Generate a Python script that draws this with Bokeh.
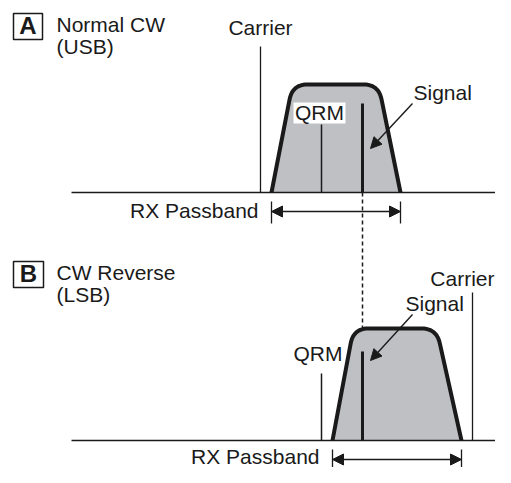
import numpy as np
from bokeh.plotting import figure
from bokeh.models import Range1d, Arrow, NormalHead, ColumnDataSource
from bokeh.core.properties import value
from bokeh.embed import file_html
from bokeh.resources import INLINE

# ---------------- data (diagram frequency / amplitude units) ----------------
panel_letters = ["A", "B"]
panel_titles = ["Normal CW", "CW Reverse"]
panel_modes = ["(USB)", "(LSB)"]
carrier_x = [260, 472]
carrier_height = [146, 148]
passband_lo = [271, 332]
passband_hi = [400, 461]
filter_top_lo = [292, 353]
filter_top_hi = [378, 436]
filter_height = [108, 112]
qrm_x = [321, 321]
qrm_height = [68, 67]
signal_x = [362, 362]
signal_height = [89, 89]

# ---------------- layout ----------------
dyB = -16                       # panel B vertical placement offset
baseline_y = [192, 456 + dyB]
axis_x0, axis_x1 = 71, 511
FONT = value("Liberation Sans")
INK = "#1a1a1a"
FILL = "#bfc0c4"
FS = "21px"
T = 8       # baseline correction for 21px text
TB = 10     # baseline correction for 24px bold text

p = figure(width=495, height=467, x_range=Range1d(0, 495), y_range=Range1d(467, 0),
           output_backend="svg", toolbar_location=None,
           x_axis_location=None, y_axis_location=None, min_border=0,
           outline_line_color=None, background_fill_color="white")
p.xgrid.visible = False
p.ygrid.visible = False


def filter_outline(lo, hi, tlo, thi, base, h, r=15, n=14):
    top = base - h
    P0 = np.array([lo, base], float)
    C1 = np.array([tlo, top], float)
    C2 = np.array([thi, top], float)
    P3 = np.array([hi, base], float)

    def towards(a, b, d):
        v = b - a
        return a + v / np.linalg.norm(v) * d

    t = np.linspace(0, 1, n)[:, None]

    def bez(a, c, b):
        return (1 - t) ** 2 * a + 2 * (1 - t) * t * c + t ** 2 * b

    a1, b1 = towards(C1, P0, r), towards(C1, C2, r)
    a2, b2 = towards(C2, C1, r), towards(C2, P3, r)
    pts = np.vstack([P0, bez(a1, C1, b1), bez(a2, C2, b2), P3])
    return pts[:, 0], pts[:, 1]


outlines = [filter_outline(passband_lo[i], passband_hi[i], filter_top_lo[i], filter_top_hi[i],
                           baseline_y[i], filter_height[i]) for i in range(2)]

# filter fills
for xs, ys in outlines:
    p.patch(xs, ys, fill_color=FILL, line_color=None)

# white label box behind QRM (panel A)
p.quad(left=[293], right=[345], top=[102], bottom=[123], fill_color="white", line_color=None)

# baselines
p.segment(x0=[axis_x0] * 2, x1=[axis_x1] * 2, y0=baseline_y, y1=baseline_y,
          line_color=INK, line_width=1.6)

# carrier lines
p.segment(x0=carrier_x, x1=carrier_x, y0=baseline_y,
          y1=[b - h for b, h in zip(baseline_y, carrier_height)], line_color=INK, line_width=1.3)
# QRM lines
p.segment(x0=qrm_x, x1=qrm_x, y0=baseline_y,
          y1=[b - h for b, h in zip(baseline_y, qrm_height)], line_color=INK, line_width=1.5)
# signal lines
p.segment(x0=signal_x, x1=signal_x, y0=baseline_y,
          y1=[b - h for b, h in zip(baseline_y, signal_height)], line_color=INK, line_width=3)

# filter outlines
for xs, ys in outlines:
    p.line(xs, ys, line_color=INK, line_width=4, line_join="round", line_cap="butt")

# dashed alignment line
p.segment(x0=[signal_x[0]], x1=[signal_x[1]], y0=[baseline_y[0]],
          y1=[baseline_y[1] - filter_height[1]], line_color=INK, line_width=1.5, line_dash="4 3")

# passband end ticks
tick_x = passband_lo + passband_hi
tick_b = baseline_y + baseline_y
p.segment(x0=tick_x, x1=tick_x, y0=[b + 9 for b in tick_b], y1=[b + 31 for b in tick_b],
          line_color=INK, line_width=1.3)

# passband arrows
pb_src = ColumnDataSource(dict(x0=passband_lo, x1=passband_hi,
                               y=[b + 19 for b in baseline_y]))
p.add_layout(Arrow(x_start="x0", y_start="y", x_end="x1", y_end="y", source=pb_src,
                   line_color=INK, line_width=1.5,
                   start=NormalHead(size=11, fill_color=INK, line_color=INK, line_width=1),
                   end=NormalHead(size=11, fill_color=INK, line_color=INK, line_width=1)))

# signal pointer arrows
sp_src = ColumnDataSource(dict(xs=[s + 50 for s in signal_x], ys=[103, 330 + dyB],
                               xe=[s + 8 for s in signal_x], ye=[148, 376 + dyB]))
p.add_layout(Arrow(x_start="xs", y_start="ys", x_end="xe", y_end="ye", source=sp_src,
                   line_color=INK, line_width=1.4,
                   end=NormalHead(size=11, fill_color=INK, line_color=INK, line_width=1)))

# panel letter boxes
p.quad(left=[13, 13], right=[42, 43], top=[13, 277 + dyB], bottom=[39, 303 + dyB],
       fill_color=None, line_color=INK, line_width=1.5)
p.text(x=[27.5, 28], y=[35 - TB, 299 + dyB - TB], text=panel_letters, text_font=FONT,
       text_font_size="24px", text_font_style="bold", text_align="center",
       text_baseline="alphabetic", text_color=INK)

# titles
p.text(x=[56, 56, 56, 56], y=[32 - T, 54 - T, 296 + dyB - T, 318 + dyB - T],
       text=[panel_titles[0], panel_modes[0], panel_titles[1], panel_modes[1]],
       text_font=FONT, text_font_size=FS, text_align="left", text_baseline="alphabetic",
       text_color=INK)

# Carrier labels
p.text(x=[carrier_x[0], 494], y=[35 - T, 302 + dyB - T], text=["Carrier", "Carrier"],
       text_font=FONT, text_font_size=FS, text_align=["center", "right"],
       text_baseline="alphabetic", text_color=INK)

# Signal labels
p.text(x=[413, 405], y=[100 - T, 327 + dyB - T], text=["Signal", "Signal"], text_font=FONT,
       text_font_size=FS, text_align="left", text_baseline="alphabetic", text_color=INK)

# QRM labels
p.text(x=[319, 342], y=[120 - T, 377 + dyB - T], text=["QRM", "QRM"], text_font=FONT,
       text_font_size=FS, text_align=["center", "right"], text_baseline="alphabetic",
       text_color=INK)

# RX Passband labels
p.text(x=[lo - 13 for lo in passband_lo], y=[baseline_y[0] + 26 - T, baseline_y[1] + 24 - T],
       text=["RX Passband", "RX Passband"], text_font=FONT, text_font_size=FS,
       text_align="right", text_baseline="alphabetic", text_color=INK)

open("out.html", "w").write(file_html(p, INLINE))
